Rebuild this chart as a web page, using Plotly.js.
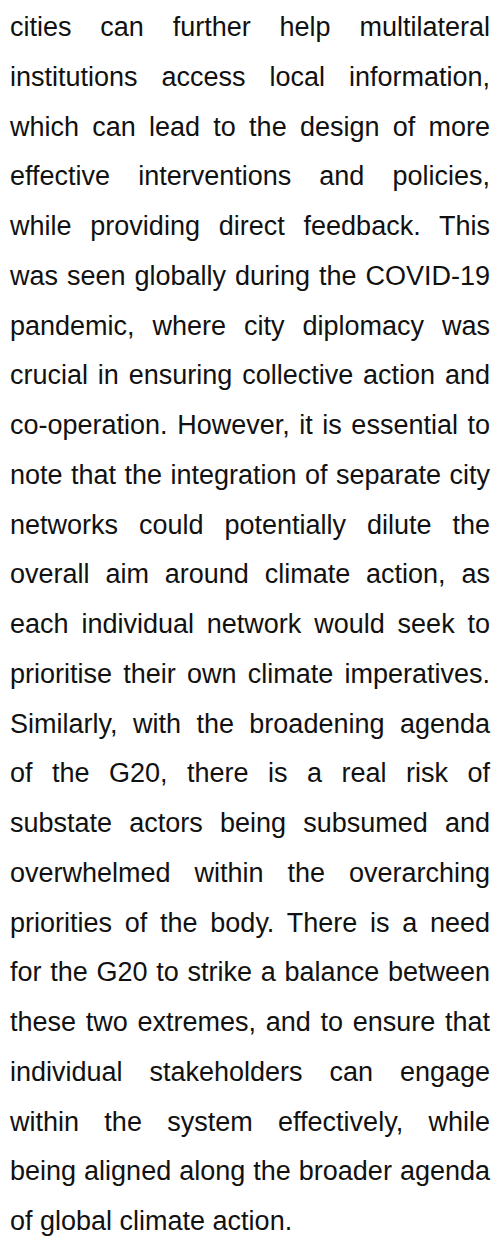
<!DOCTYPE html>
<html>
<head>
<meta charset="utf-8">
<script src="https://cdn.plot.ly/plotly-3.0.1.min.js"></script>
<style>
  html, body { margin: 0; padding: 0; background: #ffffff; width: 497px; height: 1249px; overflow: hidden; }
  #plot { position: absolute; left: 0; top: 0; width: 497px; height: 1249px; }
  #text { position: absolute; left: 10px; top: 3px; width: 480px; font-family: "Liberation Sans", Arial, Helvetica, sans-serif; font-size: 27px; line-height: 49.75px; color: #111111; }
  #text .ln { text-align: justify; text-align-last: justify; white-space: nowrap; }
  #text .ln.last { text-align-last: left; }
</style>
</head>
<body>
<div id="plot"></div>
<div id="text"></div>
<script>
const lines = [
  "cities can further help multilateral",
  "institutions access local information,",
  "which can lead to the design of more",
  "effective interventions and policies,",
  "while providing direct feedback. This",
  "was seen globally during the COVID-19",
  "pandemic, where city diplomacy was",
  "crucial in ensuring collective action and",
  "co-operation. However, it is essential to",
  "note that the integration of separate city",
  "networks could potentially dilute the",
  "overall aim around climate action, as",
  "each individual network would seek to",
  "prioritise their own climate imperatives.",
  "Similarly, with the broadening agenda",
  "of the G20, there is a real risk of",
  "substate actors being subsumed and",
  "overwhelmed within the overarching",
  "priorities of the body. There is a need",
  "for the G20 to strike a balance between",
  "these two extremes, and to ensure that",
  "individual stakeholders can engage",
  "within the system effectively, while",
  "being aligned along the broader agenda",
  "of global climate action."
];

Plotly.newPlot('plot', [], {
  width: 497, height: 1249,
  margin: {l: 0, r: 0, t: 0, b: 0},
  paper_bgcolor: '#ffffff', plot_bgcolor: '#ffffff',
  xaxis: {visible: false}, yaxis: {visible: false},
  showlegend: false
}, {staticPlot: true, displayModeBar: false});

const box = document.getElementById('text');
lines.forEach((t, i) => {
  const d = document.createElement('div');
  d.className = 'ln' + (i === lines.length - 1 ? ' last' : '');
  d.textContent = t;
  box.appendChild(d);
});
</script>
</body>
</html>
